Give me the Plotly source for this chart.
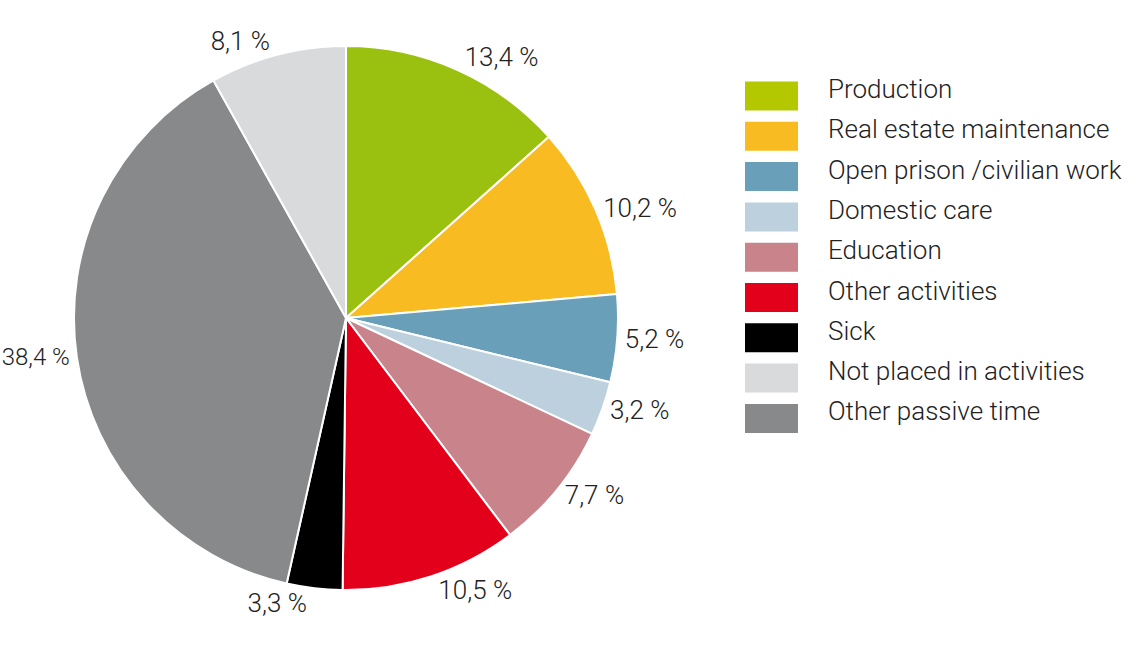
import plotly.graph_objects as go

categories = ["Production", "Real estate maintenance", "Open prison /civilian work",
              "Domestic care", "Education", "Other activities", "Sick",
              "Other passive time", "Not placed in activities"]
values = [13.4, 10.2, 5.2, 3.2, 7.7, 10.5, 3.3, 38.4, 8.1]
slice_colors = ["#9AC10F", "#F8BC22", "#6A9FBA", "#BDD0DE", "#C8838B",
                "#E2001A", "#000000", "#88898B", "#D9DADC"]
label_sizes = [26, 26, 26, 26, 26, 26, 26, 24, 26]

legend_labels = ["Production", "Real estate maintenance", "Open prison /civilian work",
                 "Domestic care", "Education", "Other activities", "Sick",
                 "Not placed in activities", "Other passive time"]
legend_colors = ["#B4C800", "#F8BC22", "#6A9FBA", "#BDD0DE", "#C8838B",
                 "#E2001A", "#000000", "#D9DADC", "#88898B"]

W, H = 1138, 646
FONT = "Roboto"
TXT = "#222222"

cx, cy, r = 346, 318, 272  # pie centre/radius in figure px (from top)

fig = go.Figure()
fig.add_trace(go.Pie(
    labels=categories, values=values, sort=False, direction="clockwise",
    marker=dict(colors=slice_colors, line=dict(color="white", width=2)),
    textposition="outside", texttemplate="%{value:.1f} %",
    textfont=dict(family=FONT, size=label_sizes, color=TXT, weight=300),
    domain=dict(x=[(cx - r) / W, (cx + r) / W],
                y=[(H - cy - r) / H, (H - cy + r) / H]),
    automargin=False,
    showlegend=False, hoverinfo="label+value",
))

# custom legend (swatch + label per row)
row_h = 40.3
top = 96
shapes = []
annotations = []
for i, (lab, col) in enumerate(zip(legend_labels, legend_colors)):
    yc = top + i * row_h
    shapes.append(dict(type="rect", xref="paper", yref="paper",
                       x0=745 / W, x1=798 / W,
                       y0=1 - (yc - 14.5) / H, y1=1 - (yc + 14.5) / H,
                       fillcolor=col, line=dict(width=0)))
    annotations.append(dict(xref="paper", yref="paper", x=826 / W,
                            y=1 - (yc - 7) / H,
                            text=lab, showarrow=False, xanchor="left", yanchor="middle",
                            font=dict(family=FONT, size=26, color=TXT, weight=300)))

fig.update_layout(
    width=W, height=H,
    margin=dict(l=0, r=0, t=0, b=0, autoexpand=False),
    paper_bgcolor="white", plot_bgcolor="white",
    separators=", ", shapes=shapes, annotations=annotations,
    font=dict(family=FONT),
)
fig.write_html("out.html", config={"displayModeBar": False},
               post_script="document.body.style.margin='0';document.body.style.overflow='hidden';")
